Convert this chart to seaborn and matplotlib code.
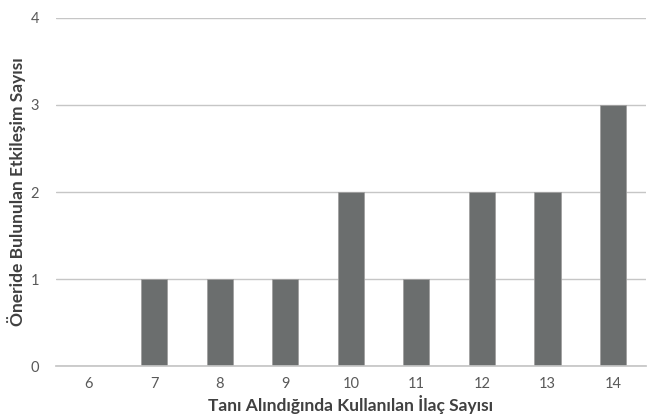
import matplotlib
matplotlib.use("Agg")
import matplotlib.pyplot as plt
import pandas as pd
import seaborn as sns

drug_counts = ["6", "7", "8", "9", "10", "11", "12", "13", "14"]
interactions = [0, 1, 1, 1, 2, 1, 2, 2, 3]
y_ticks = [0, 1, 2, 3, 4]

sns.set_theme(style="white")
plt.rcParams["font.family"] = ["Lato", "DejaVu Sans"]

df = pd.DataFrame({"drugs": drug_counts, "count": interactions})

fig = plt.figure(figsize=(6.49, 4.17), dpi=100)
ax = fig.add_axes([0.086, 0.122, 0.909, 0.835])

ax.set_axisbelow(True)
ax.yaxis.grid(True, color="#c6c6c6", linewidth=1.0)
sns.barplot(data=df, x="drugs", y="count", order=drug_counts, color="#6b6e6e",
            width=0.4, edgecolor="#a0a0a0", linewidth=0.6, saturation=1, ax=ax)

ax.set_ylim(0, 4)
ax.set_yticks(y_ticks)
ax.set_xlim(-0.5, len(drug_counts) - 0.5)
for side in ["top", "right", "left"]:
    ax.spines[side].set_visible(False)
ax.spines["bottom"].set_color("#c6c6c6")
ax.tick_params(axis="both", length=0, labelsize=10.5, labelcolor="#595959", pad=8)
ax.tick_params(axis="y", pad=12)

ax.set_xlabel("Tanı Alındığında Kullanılan İlaç Sayısı", fontsize=12.5, fontweight="bold",
              color="#404040", labelpad=3)
ax.set_ylabel("Öneride Bulunulan Etkileşim Sayısı", fontsize=12.5, fontweight="bold",
              color="#404040", labelpad=3)

fig.savefig("out.png", dpi=100)
